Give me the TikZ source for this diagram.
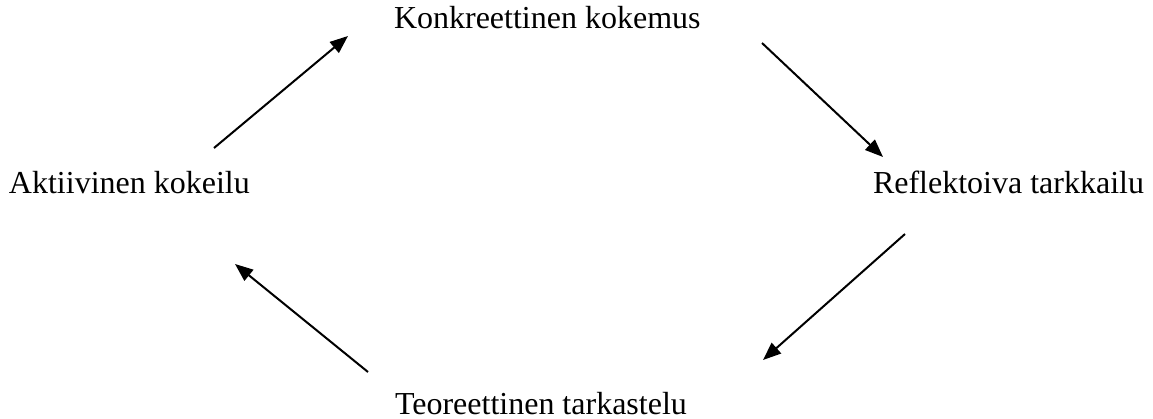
\documentclass[tikz,border=0pt]{standalone}
\usepackage{fontspec}
\setmainfont{Liberation Serif}
\usetikzlibrary{arrows.meta}
\tikzset{
  stage/.style={inner sep=0pt, outer sep=0pt, anchor=base west, font=\fontsize{32}{38}\selectfont},
  flow/.style={line width=2pt, -{Triangle[length=18pt,width=14pt]}}
}
\begin{document}
\begin{tikzpicture}[x=1pt,y=-1pt]
  \useasboundingbox (0,0) rectangle (1153,419);
  % the four stages of the cycle
  \node[stage] (ck) at (394,29) {Konkreettinen kokemus};
  \node[stage] (ro) at (873,194) {Reflektoiva tarkkailu};
  \node[stage] (tt) at (395,414) {Teoreettinen tarkastelu};
  \node[stage] (ak) at (9,194) {Aktiivinen kokeilu};
  % arrow end points
  \coordinate (a1) at (214,148);
  \coordinate (b1) at (348,36);
  \coordinate (a2) at (762,43);
  \coordinate (b2) at (883,157);
  \coordinate (a3) at (905,234);
  \coordinate (b3) at (763,360);
  \coordinate (a4) at (368,372);
  \coordinate (b4) at (235,264);
  \draw[flow] (a1) -- (b1);
  \draw[flow] (a2) -- (b2);
  \draw[flow] (a3) -- (b3);
  \draw[flow] (a4) -- (b4);
\end{tikzpicture}
\end{document}
